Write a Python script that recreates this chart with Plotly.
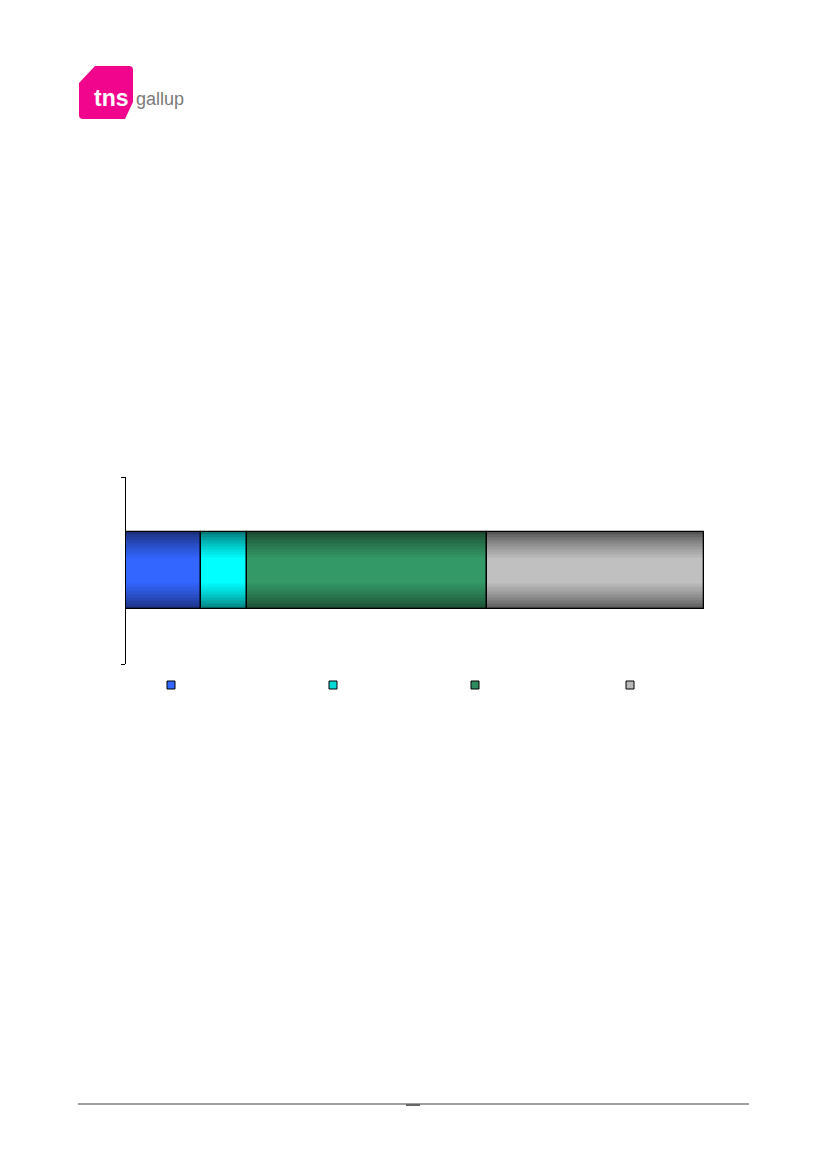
import plotly.graph_objects as go

# ---------------- data ----------------
categories = [""]
series_names = ["", "", "", ""]
values = [12.9, 8.0, 41.5, 37.6]
edge_colors = ["#1b2f7c", "#007a7a", "#1b4a31", "#555555"]
center_colors = ["#3366ff", "#00ffff", "#339966", "#c0c0c0"]
legend_colors = ["#3366ff", "#00d8d8", "#2e8b5e", "#b8b8b8"]

# ---------------- layout geometry (page pixels) ----------------
OFF = 8  # default body margin of the html page
W, H = 826 - 2 * OFF, 1169 - 2 * OFF
L, R, T, B = 126, 704, 477, 664  # plot area in page pixels
BAR_W = 0.412


def px(x):
    return (x - L) / (R - L)


def py(y):
    return (B - y) / (B - T)


def hex2rgb(h):
    h = h.lstrip("#")
    return tuple(int(h[i:i + 2], 16) for i in (0, 2, 4))


def mix(c1, c2, t):
    a, b = hex2rgb(c1), hex2rgb(c2)
    return "rgb(%d,%d,%d)" % tuple(round(a[i] + (b[i] - a[i]) * t) for i in range(3))


bases = []
acc = 0
for v in values:
    bases.append(acc)
    acc += v

fig = go.Figure()

# gradient layers: overlaid bars of decreasing thickness
N = 18
for k in range(N):
    frac = 1 - 0.68 * k / (N - 1)
    t = (k / (N - 1)) ** 0.8
    fig.add_trace(go.Bar(
        y=categories * len(values), x=values, base=bases,
        orientation="h", width=BAR_W * frac,
        marker=dict(color=[mix(e, c, t) for e, c in zip(edge_colors, center_colors)],
                    line=dict(width=0)),
        showlegend=False, hoverinfo="skip",
    ))

# outlines
fig.add_trace(go.Bar(
    y=categories * len(values), x=values, base=bases,
    orientation="h", width=BAR_W,
    marker=dict(color="rgba(0,0,0,0)", line=dict(color="black", width=1.3)),
    showlegend=False, hoverinfo="skip",
))

# legend entries, each in its own legend
legend_px = [171, 333, 475, 630]
for i, (nm, col) in enumerate(zip(series_names, legend_colors)):
    lg = "legend" if i == 0 else "legend%d" % (i + 1)
    fig.add_trace(go.Scatter(
        x=[None], y=[None], mode="markers", name=nm,
        marker=dict(symbol="square", size=8, color=col,
                    line=dict(color="black", width=1)),
        legend=lg, showlegend=True,
    ))

legend_common = dict(bgcolor="rgba(0,0,0,0)", borderwidth=0, yanchor="middle",
                     xanchor="left", font=dict(size=10, color="black"),
                     itemsizing="trace", tracegroupgap=0)
legends = {}
for i, lx in enumerate(legend_px):
    key = "legend" if i == 0 else "legend%d" % (i + 1)
    legends[key] = dict(x=px(lx - 20), y=py(685), **legend_common)

# ---------------- shapes: logo and footer line ----------------
pink = "#f0058c"
logo_pts = [
    ("M", 95, 66), ("L", 129, 66), ("Q", 133, 66, 133, 70), ("L", 133, 102),
    ("L", 125, 119), ("L", 83, 119), ("Q", 79, 119, 79, 115), ("L", 79, 83),
]
path = ""
for p in logo_pts:
    if p[0] == "Q":
        path += "Q%.5f,%.5f %.5f,%.5f " % (px(p[1]), py(p[2]), px(p[3]), py(p[4]))
    else:
        path += "%s%.5f,%.5f " % (p[0], px(p[1]), py(p[2]))
path += "Z"

shapes = [
    dict(type="path", xref="paper", yref="paper", path=path,
         fillcolor=pink, line=dict(width=0), layer="above"),
    dict(type="line", xref="paper", yref="paper", x0=px(78), x1=px(749),
         y0=py(1104), y1=py(1104), line=dict(color="#a0a0a0", width=2)),
    dict(type="line", xref="paper", yref="paper", x0=px(406), x1=px(420),
         y0=py(1105), y1=py(1105), line=dict(color="#666666", width=2)),
]

annotations = [
    dict(text="<b>tns</b>", xref="paper", yref="paper", x=px(92), y=py(98),
         xanchor="left", yanchor="middle", showarrow=False,
         font=dict(family="Liberation Sans, Arial", size=23, color="white")),
    dict(text="gallup", xref="paper", yref="paper", x=px(134), y=py(99),
         xanchor="left", yanchor="middle", showarrow=False,
         font=dict(family="Liberation Sans Narrow, Liberation Sans, Arial", size=18, color="#7a7a7a")),
]

fig.update_layout(
    width=W, height=H,
    margin=dict(l=L - OFF, r=W - (R - OFF), t=T - OFF, b=H - (B - OFF), pad=0),
    paper_bgcolor="white", plot_bgcolor="white",
    barmode="overlay",
    bargap=0,
    showlegend=True,
    shapes=shapes, annotations=annotations,
    xaxis=dict(range=[0, 100], visible=False, fixedrange=True),
    yaxis=dict(type="category", range=[-0.5, 0.5], showline=True, linecolor="black",
               linewidth=1, ticks="outside", ticklen=4, tickcolor="black",
               tickson="boundaries", showticklabels=False, showgrid=False,
               zeroline=False),
    **legends,
)

fig.write_html("out.html")
